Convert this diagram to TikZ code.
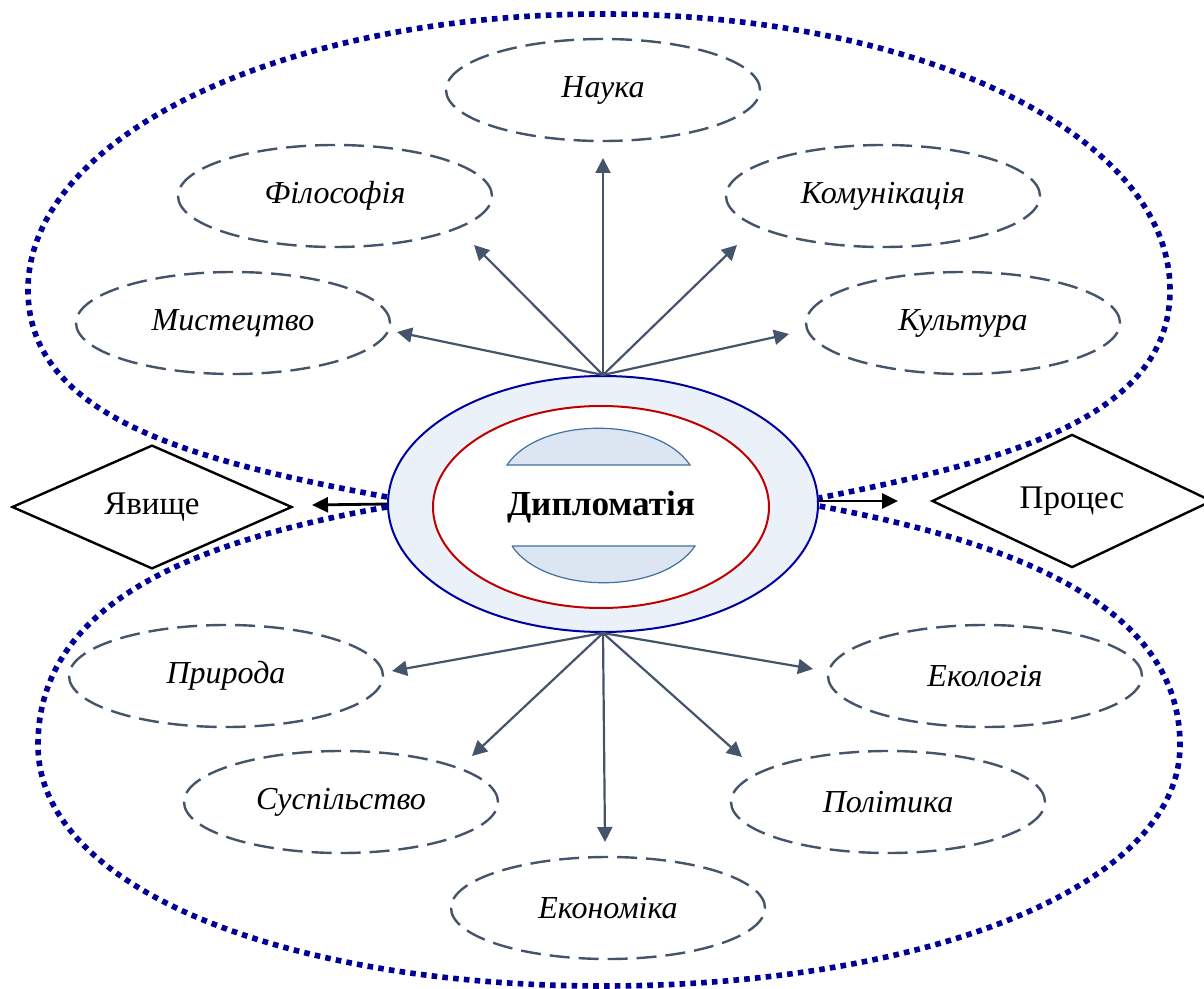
\documentclass[tikz,border=0pt]{standalone}
\usepackage{fontspec}
\setmainfont{Liberation Serif}
\usepackage{xcolor}
\usetikzlibrary{arrows, arrows.meta, positioning, shapes.geometric}
\definecolor{slate}{RGB}{68,84,106}
\definecolor{navy}{RGB}{0,0,150}
\definecolor{rimblue}{RGB}{0,0,160}
\definecolor{paleblue}{RGB}{234,241,249}
\definecolor{capfill}{RGB}{220,230,242}
\definecolor{capline}{RGB}{65,113,156}
\definecolor{corered}{RGB}{192,0,0}

\begin{document}
\begin{tikzpicture}[x=0.5pt,y=-0.5pt,>={Triangle[length=7.5pt,width=7.5pt]}]
    \tikzstyle{field}=[shape=ellipse,draw=slate,line width=1.2pt,dash pattern=on 10pt off 4.5pt,minimum width=157pt,minimum height=51pt,inner sep=0pt,font=\fontsize{16}{19}\selectfont\itshape]
    \tikzstyle{kind}=[shape=diamond,draw,line width=1.2pt,minimum width=140pt,minimum height=60pt,inner sep=0pt,font=\fontsize{16.5}{19}\selectfont]
    \tikzstyle{ring}=[draw=navy,line width=2.8pt,dash pattern=on 2.8pt off 2.6pt]

    \useasboundingbox (0,0) rectangle (1204,989);

    % centre
    \node[shape=ellipse,draw=rimblue,fill=paleblue,line width=1pt,minimum width=215pt,minimum height=128pt,inner sep=0pt] (D) at (603,504) {};
    \node[shape=ellipse,draw=corered,fill=white,line width=1pt,minimum width=168pt,minimum height=101pt,inner sep=0pt,font=\fontsize{17.6}{21}\selectfont\bfseries] (C) at (601,507) {Дипломатія};
    \draw[capline,fill=capfill,line width=0.6pt] (507,465) .. controls (540,416) and (657,416) .. (690,465) -- cycle;
    \draw[capline,fill=capfill,line width=0.6pt] (512,546) -- (695,546) .. controls (662,595) and (545,595) .. (512,546);

    % upper fields
    \node[field] (U1) at (603,90) {Наука};
    \node[field] (U2) at (335,196) {Філософія};
    \node[field] (U3) at (883,196) {Комунікація};
    \node[field] (U4) at (233,323) {Мистецтво};
    \node[field] (U5) at (963,323) {Культура};

    % lower fields
    \node[field] (B1) at (226,676) {Природа};
    \node[field] (B2) at (985,676) {Екологія};
    \node[field] (B3) at (341,802) {Суспільство};
    \node[field] (B4) at (888,802) {Політика};
    \node[field] (B5) at (608,908) {Економіка};

    \node[kind] (P1) at (152,507) {Явище};
    \node[kind] (P2) at (1072,501) {Процес};

    \coordinate (t1) at (603,158);
    \coordinate (t2) at (474,245);
    \coordinate (t3) at (737,245);
    \coordinate (t4) at (397,332);
    \coordinate (t5) at (789,334);
    \coordinate (s1) at (392,671);
    \coordinate (s2) at (813,669);
    \coordinate (s3) at (472,756);
    \coordinate (s4) at (742,757);
    \coordinate (s5) at (605,842);
    \coordinate (k1) at (312,505);
    \coordinate (k2) at (898,501);

    % dotted rings
    \draw[ring] ([yshift=3.5pt]D.west) .. controls (200,462) and (28,420) .. (28,290) .. controls (28,135) and (286,14) .. (603,14) .. controls (920,14) and (1170,135) .. (1170,290) .. controls (1170,420) and (1000,462) .. ([yshift=3pt]D.east);
    \draw[ring] ([yshift=-1.5pt]D.west) .. controls (200,540) and (38,600) .. (38,745) .. controls (38,890) and (290,986) .. (603,986) .. controls (916,986) and (1180,890) .. (1180,745) .. controls (1180,600) and (1000,540) .. ([yshift=-1pt]D.east);

    \path[->,slate,line width=1.1pt]
    (D.north) edge (t1)
    (D.north) edge (t2)
    (D.north) edge (t3)
    (D.north) edge (t4)
    (D.north) edge (t5)
    (D.south) edge (s1)
    (D.south) edge (s2)
    (D.south) edge (s3)
    (D.south) edge (s4)
    (D.south) edge (s5)
    ;

    \path[->,line width=1.4pt,>={Triangle[length=8pt,width=7.5pt]}]
    (D.west) edge (k1)
    ([yshift=1.5pt]D.east) edge (k2)
    ;
\end{tikzpicture}
\end{document}
